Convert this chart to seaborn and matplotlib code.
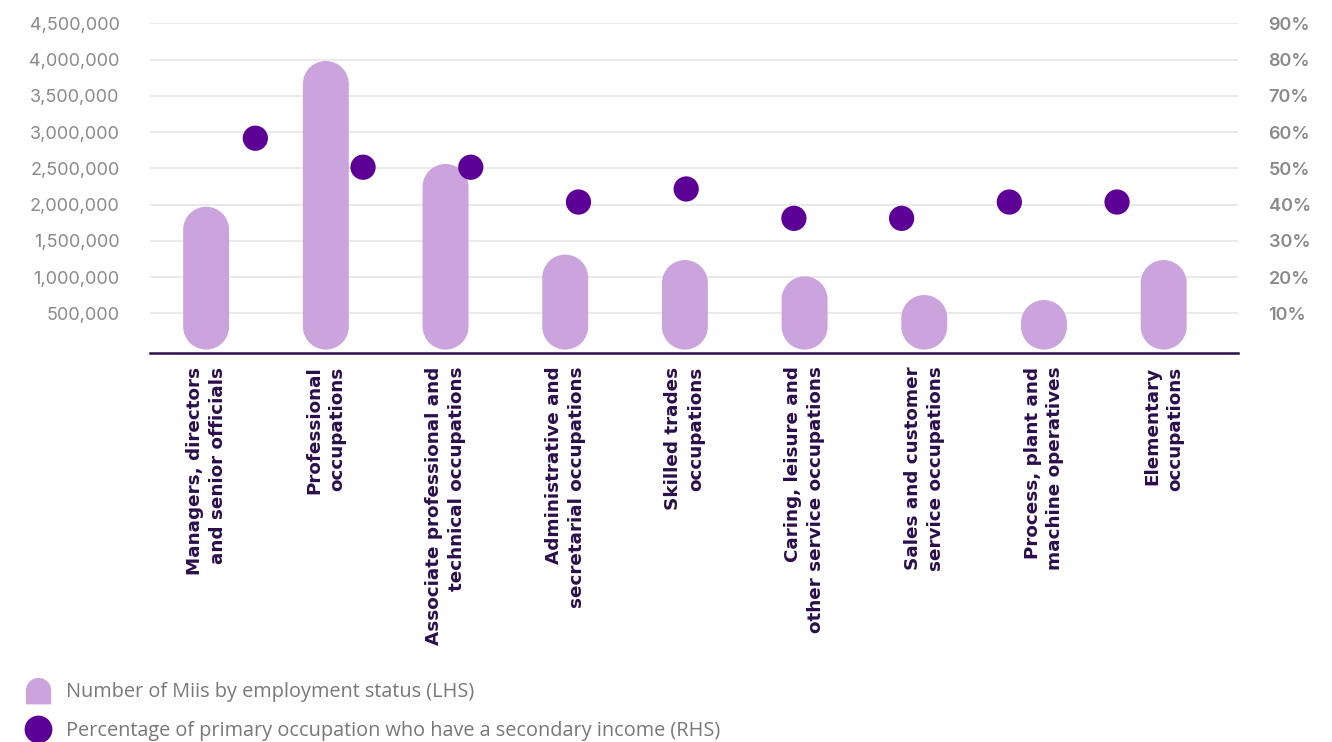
import numpy as np
import pandas as pd
import matplotlib
matplotlib.use("Agg")
import matplotlib.pyplot as plt
import seaborn as sns
from matplotlib.patches import PathPatch
from matplotlib.lines import Line2D
from matplotlib.path import Path
from matplotlib.ticker import FuncFormatter

categories = [
    "Managers, directors\nand senior officials",
    "Professional\noccupations",
    "Associate professional and\ntechnical occupations",
    "Administrative and\nsecretarial occupations",
    "Skilled trades\noccupations",
    "Caring, leisure and\nother service occupations",
    "Sales and customer\nservice occupations",
    "Process, plant and\nmachine operatives",
    "Elementary\noccupations",
]
miis_count = [1970000, 3980000, 2560000, 1310000, 1235000, 1010000, 753000, 684000, 1235000]
secondary_pct = [58.3, 50.3, 50.3, 40.7, 44.3, 36.2, 36.2, 40.7, 40.7]
left_ticks = [500000, 1000000, 1500000, 2000000, 2500000, 3000000, 3500000, 4000000, 4500000]
right_ticks = [10, 20, 30, 40, 50, 60, 70, 80, 90]
legend_labels = ["Number of Miis by employment status (LHS)",
                 "Percentage of primary occupation who have a secondary income (RHS)"]

BAR_C = "#CBA4DE"
DOT_C = "#5C0096"
AXIS_C = "#2B0F4C"
TICK_C = "#8A8A8A"
GRID_C = "#E6E6E6"
LEG_C = "#787878"

sns.set_style("white")
plt.rcParams["font.family"] = ["Inter", "DejaVu Sans"]

W, H = 1332, 742
fig = plt.figure(figsize=(W / 100, H / 100), dpi=100)
pos = [150 / W, 1 - 352.7 / H, (1238 - 150) / W, (352.7 - 23.3) / H]
ax = fig.add_axes(pos)

df = pd.DataFrame({"cat": categories, "val": miis_count})
sns.barplot(data=df, x="cat", y="val", color=BAR_C, width=0.384, ax=ax,
            saturation=1, zorder=3)

ymin_left = -43000
ax.set_xlim(-0.469, 8.621)
ax.set_ylim(ymin_left, 4500000)

# turn each seaborn bar into a pill shape (circular ends in screen space)
fig.canvas.draw()
p0 = ax.transData.transform((0, 0))
px_per_x = ax.transData.transform((1, 0))[0] - p0[0]
px_per_y = ax.transData.transform((0, 1))[1] - p0[1]
aspect = px_per_x / px_per_y
top_arc = Path.arc(0, 180)
bot_arc = Path.arc(180, 360)


def pill_path(x, y, w, h):
    rx = w / 2
    ry = min(rx * aspect, h / 2)
    cx = x + rx
    t = top_arc.vertices * [rx, ry] + [cx, y + h - ry]
    b = bot_arc.vertices * [rx, ry] + [cx, y + ry]
    verts = [(cx + rx, y + ry), (cx + rx, y + h - ry)] + list(t[1:]) + \
            [(cx - rx, y + ry)] + list(b[1:]) + [(cx + rx, y + ry)]
    codes = [Path.MOVETO, Path.LINETO] + list(top_arc.codes[1:]) + \
            [Path.LINETO] + list(bot_arc.codes[1:]) + [Path.CLOSEPOLY]
    return Path(verts, codes)


for patch in list(ax.patches):
    pp = PathPatch(pill_path(patch.get_x(), patch.get_y(),
                             patch.get_width(), patch.get_height()),
                   facecolor=BAR_C, edgecolor="none", zorder=3)
    patch.remove()
    ax.add_patch(pp)

ax.set_yticks(left_ticks)
ax.yaxis.set_major_formatter(FuncFormatter(lambda v, p: f"{int(v):,}"))
ax.grid(axis="y", color=GRID_C, linewidth=1.2, zorder=0)
ax.grid(axis="x", visible=False)
for s in ["top", "right", "left"]:
    ax.spines[s].set_visible(False)
ax.spines["bottom"].set_color(AXIS_C)
ax.spines["bottom"].set_linewidth(1.8)
ax.spines["bottom"].set_zorder(5)
ax.tick_params(axis="y", length=0, pad=22, labelsize=13, labelcolor=TICK_C)
ax.tick_params(axis="x", length=0, pad=10)
ax.set_xticks(range(len(categories)))
ax.set_xticklabels(categories, rotation=90, ha="center", va="top",
                   multialignment="right", fontsize=13.2, fontweight="bold",
                   color=AXIS_C, linespacing=1.35,
                   family=["DejaVu Sans"])
ax.set_xlabel("")
ax.set_ylabel("")

# secondary axes for percentages
ax2 = fig.add_axes(pos, frameon=False)
ax2.set_xlim(-0.978, 9.123)
ax2.set_ylim(ymin_left / 50000, 90)
dfp = pd.DataFrame({"idx": np.arange(len(secondary_pct)), "pct": secondary_pct})
sns.scatterplot(data=dfp, x="idx", y="pct", color=DOT_C, s=330, edgecolor="none",
                ax=ax2, zorder=4)
ax2.xaxis.set_visible(False)
ax2.yaxis.tick_right()
ax2.set_yticks(right_ticks)
ax2.yaxis.set_major_formatter(FuncFormatter(lambda v, p: f"{int(v)}%"))
ax2.tick_params(axis="y", length=0, pad=22, labelsize=13, labelcolor=TICK_C)
for lbl in ax2.get_yticklabels():
    lbl.set_fontweight("semibold")
ax2.set_xlabel("")
ax2.set_ylabel("")
ax2.grid(False)

# legend
verts = [(1, -1.1), (1, 0)] + list(top_arc.vertices[1:]) + [(-1, -1.1), (1, -1.1)]
codes = [Path.MOVETO, Path.LINETO] + list(top_arc.codes[1:]) + [Path.LINETO, Path.CLOSEPOLY]
tomb = Path(verts, codes)
handles = [
    Line2D([], [], linestyle="none", marker=tomb, markersize=20,
           markerfacecolor=BAR_C, markeredgecolor="none"),
    Line2D([], [], linestyle="none", marker="o", markersize=20,
           markerfacecolor=DOT_C, markeredgecolor="none"),
]
leg = fig.legend(handles, legend_labels, loc="upper left",
                 bbox_to_anchor=(25 / W, 1 - 682 / H), frameon=False,
                 labelcolor=LEG_C, handlelength=1.35,
                 handletextpad=0.7, labelspacing=0.95, borderpad=0,
                 borderaxespad=0, prop={"family": ["Open Sans", "DejaVu Sans"], "size": 14.3})

fig.savefig("out.png", dpi=100)
